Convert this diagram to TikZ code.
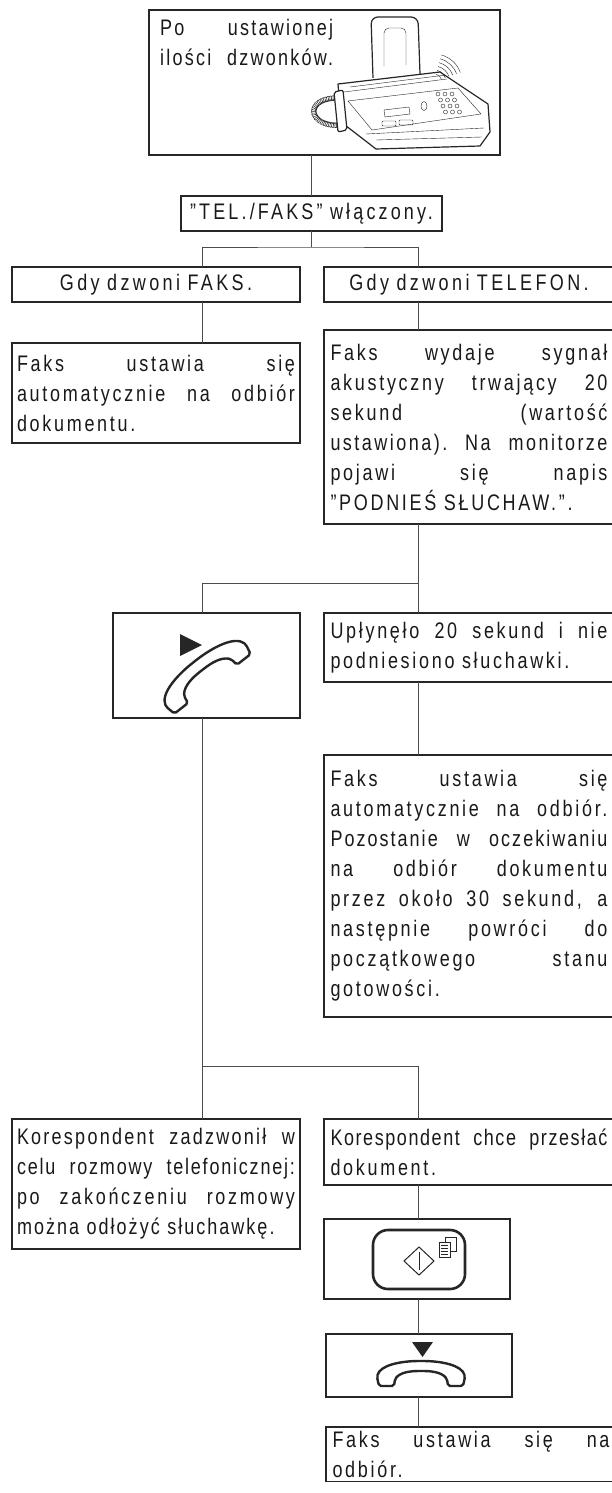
\documentclass[tikz,border=0pt]{standalone}
\usepackage{fontspec}
\setmainfont{Liberation Sans}[FakeStretch=0.8,LetterSpace=12]
\usetikzlibrary{decorations.pathmorphing}

% wiersz wyrownany do obu krawedzi (opcjonalnie ciasniejszy)
\newcommand{\pelny}[2][12]{\leavevmode\hbox to \linewidth{\addfontfeature{LetterSpace=#1}%
  \spaceskip=.25em plus 1fil\xspaceskip=\spaceskip #2}}
\newcommand{\wiersz}[2][12]{\pelny[#1]{#2}\\}

\tikzset{
  ramka/.style={draw=black!85, line width=1.6pt, inner ysep=4pt, outer sep=0pt, text=black!90,
    anchor=north west, align=left, font=\fontsize{22.5}{30}\selectfont},
  naglowek/.style={align=center, font=\fontsize{22.5}{30}\selectfont\addfontfeature{LetterSpace=15}},
  lewa/.style={text width=278pt, inner xsep=5pt, minimum width=288pt},
  prawa/.style={text width=277pt, inner xsep=6.5pt, minimum width=290pt},
  linia/.style={draw=black!70, line width=0.9pt},
  sluchawka/.pic={
    \draw[line width=2.4pt, line join=round, fill=white, rounded corners=2pt]
      (-42,12) -- (-44,3) .. controls (-41,-9) and (-20,-13) .. (0,-13)
      .. controls (20,-13) and (41,-9) .. (44,3) -- (42,12) -- (27,12)
      -- (26,5) .. controls (20,-2) and (10,-3) .. (0,-3)
      .. controls (-10,-3) and (-20,-2) .. (-26,5) -- (-27,12) -- cycle;
  }
}

\begin{document}
\begin{tikzpicture}[x=1pt, y=-1pt, black!85]
\useasboundingbox (0,0) rectangle (612,1493);
\clip (0,0) rectangle (612,1493);

% Ramka z faksem
\node[ramka, minimum width=351pt, minimum height=145pt] (start) at (149,10) {};
\node[anchor=north west, inner sep=0pt, text width=173pt, align=left, text=black!90,
  font=\fontsize{22.5}{30}\selectfont] (opis) at (160,19) {\wiersz[10]{Po ustawionej}\pelny[10]{ilości dzwonków.}};

% Faks
\draw[line width=1.2pt, rounded corners=7pt] (373,78) -- (371,17) -- (418,17) -- (420,74);
\draw[rounded corners=5pt] (384,66) -- (384,28) -- (406,28) -- (406,65);
\draw[line width=1.2pt, line join=round, fill=white] (338,84) -- (440,72) -- (488,104)
  -- (490,132) -- (480,146) -- (376,149) -- (341,122) -- cycle;
\draw (344,92) -- (447,79);
\draw (350,87) -- (446,75);
\draw (348,101) -- (458,88) -- (481,114) -- (372,130) -- cycle;
\draw (384,110) -- (409,107) -- (410,114) -- (385,117) -- cycle;
\draw (424,106) ellipse (3 and 4.5);
\foreach \i in {0,1,2}
  \foreach \j in {0,1,2,3}
    \draw (438+7*\i+2.5*\j,94+6*\j) circle (2);
\draw[rounded corners=1pt] (382,121) rectangle (396,126);
\draw[rounded corners=1pt] (399,120) rectangle (413,125);
\draw (376,140) -- (482,137);
\draw (366,134) -- (484,128);
\draw[decorate, decoration={coil, aspect=0.5, segment length=1.6pt, amplitude=2.6pt}]
  (338,98) .. controls (303,98) and (308,128) .. (342,125);
\draw[line width=1.2pt, rounded corners=2pt, fill=white] (334,92) -- (343,90) -- (347,130) -- (338,132) -- cycle;
\foreach \r in {8,12,16,20,24,28}
  \draw (434,82) ++(-20:\r) arc (-20:-75:\r);

% Poziom 1
\node[ramka, naglowek, text width=255pt, inner xsep=3pt, minimum height=35pt,
  font=\fontsize{22.5}{30}\selectfont\addfontfeature{LetterSpace=14}] (telfaks) at (181,196) {"TEL./FAKS" włączony.};
\node[ramka, lewa, naglowek, minimum height=35pt] (gdyfaks) at (12,267) {Gdy dzwoni FAKS.};
\node[ramka, prawa, naglowek, minimum height=35pt] (gdytel) at (324,267) {Gdy dzwoni TELEFON.};

% Poziom 2
\node[ramka, lewa, minimum height=100pt] (odbA) at (12,343)
  {\wiersz{Faks ustawia się}\wiersz{automatycznie na odbiór}dokumentu.};
\node[ramka, prawa, minimum height=194pt] (sygnal) at (324,330)
  {\wiersz{Faks wydaje sygnał}\wiersz{akustyczny trwający 20}\wiersz{sekund (wartość}%
   \wiersz[11]{ustawiona). Na monitorze}\wiersz{pojawi się napis}"PODNIEŚ SŁUCHAW.".};

% Poziom 3
\node[ramka, minimum width=187pt, minimum height=105pt] (sluch) at (113,613) {};
\pic[rotate=38, scale=1.15] at (204,673) {sluchawka};
\fill (180,634) -- (202,645) -- (180,656) -- cycle;
\node[ramka, prawa, minimum height=69pt] (uplyn) at (324,613)
  {\wiersz{Upłynęło 20 sekund i nie}podniesiono słuchawki.};
\node[ramka, prawa, minimum height=262pt] (odbB) at (324,755)
  {\wiersz{Faks ustawia się}\wiersz{automatycznie na odbiór.}\wiersz[9]{Pozostanie w oczekiwaniu}%
   \wiersz{na odbiór dokumentu}\wiersz{przez około 30 sekund, a}\wiersz{następnie powróci do}%
   \wiersz{początkowego stanu}gotowości.};

% Poziom 4
\node[ramka, lewa, minimum height=130pt] (rozm) at (12,1119)
  {\wiersz[10]{Korespondent zadzwonił w}\wiersz[8]{celu rozmowy telefonicznej:}%
   \wiersz{po zakończeniu rozmowy}{\addfontfeature{LetterSpace=9}można odłożyć słuchawkę.}};
\node[ramka, prawa, minimum height=66pt, inner ysep=2pt] (dok) at (324,1119)
  {\wiersz[7]{Korespondent chce przesłać}dokument.};

% Przycisk start
\node[ramka, minimum width=186pt, minimum height=80pt] (przycisk) at (324,1219) {};
\draw[line width=2.6pt, rounded corners=15pt] (373,1230) rectangle (465,1289);
\draw[line width=1pt] (404,1261) -- (419,1247) -- (434,1261) -- (419,1275) -- cycle;
\draw[line width=1pt] (419,1252) -- (419,1270);
\draw (445,1237) rectangle (456,1251);
\filldraw[fill=white] (439,1242) rectangle (450,1257);
\foreach \yy in {1245,1248,1251,1254}
  \draw (441,\yy) -- (448,\yy);

% Odlozenie sluchawki
\node[ramka, minimum width=186pt, minimum height=63pt] (odloz) at (326,1334) {};
\fill (412,1342) -- (433,1342) -- (422.5,1357) -- cycle;
\pic at (421,1374) {sluchawka};
\node[ramka, prawa] (odbC) at (326,1427) {\wiersz{Faks ustawia się na}odbiór.};

% Polaczenia
\coordinate (lx) at (202,0);
\coordinate (rx) at (418,0);
\coordinate (w2) at (418,583);
\coordinate (w3) at (202,1066);
\draw[linia] (telfaks.north) -- (telfaks.north |- start.south);
\draw[linia] (telfaks.south) -- ++(0,16) coordinate (w1);
\draw[linia] (gdyfaks.north -| lx) |- (w1) -| (gdytel.north -| rx);
\draw[linia] (gdyfaks.south -| lx) -- (odbA.north -| lx);
\draw[linia] (gdytel.south -| rx) -- (sygnal.north -| rx);
\draw[linia] (sygnal.south -| rx) -- (uplyn.north -| rx);
\draw[linia] (sluch.north -| lx) |- (w2);
\draw[linia] (uplyn.south -| rx) -- (odbB.north -| rx);
\draw[linia] (sluch.south -| lx) -- (rozm.north -| lx);
\draw[linia] (w3) -| (dok.north -| rx);
\draw[linia] (dok.south -| rx) -- (przycisk.north -| rx);
\draw[linia] (przycisk.south -| rx) -- (odloz.north -| rx);
\draw[linia] (odloz.south -| rx) -- (odbC.north -| rx);
\end{tikzpicture}
\end{document}
